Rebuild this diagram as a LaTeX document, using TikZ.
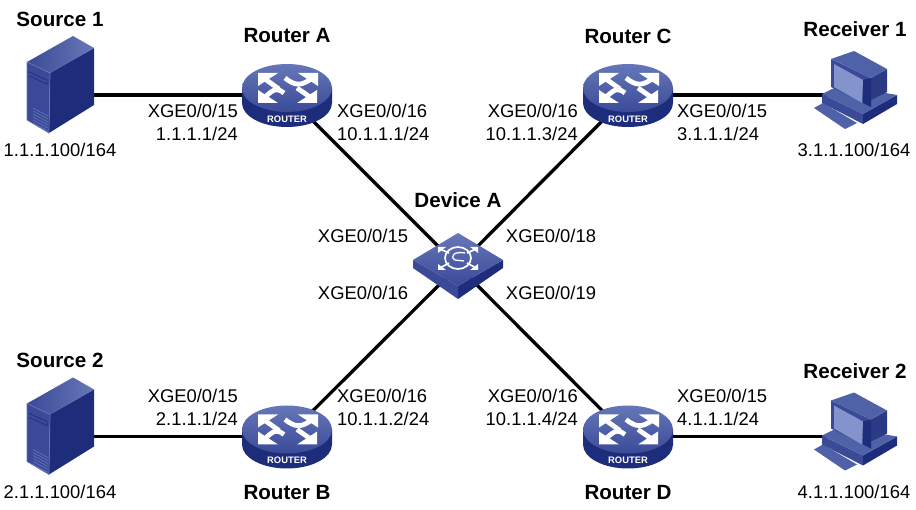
\documentclass[tikz,border=0pt]{standalone}
\usepackage{fontspec}
\setmainfont{Liberation Sans}
\definecolor{icontop}{HTML}{4F62A8}
\definecolor{iconlight}{HTML}{6677B8}
\definecolor{iconmid}{HTML}{3A4A98}
\definecolor{icondark}{HTML}{1E2C7C}
\definecolor{iconside}{HTML}{2A3A84}
\definecolor{iconscreen}{HTML}{8593CC}
\tikzset{
  site/.style={inner sep=0pt, minimum size=0pt},
  portlabel/.style={inner sep=0pt, font=\fontsize{18.4}{23}\selectfont},
  namelabel/.style={inner sep=0pt, font=\fontsize{20.6}{24}\selectfont\bfseries},
  link/.style={black, line width=3.3pt},
  shaft/.style={white, line width=4.8pt},
  smallarrow/.style={white, line width=1.7pt},
  router/.pic={
    \fill[icondark] (-45,-7) -- (-45,8) arc[start angle=180, end angle=0, x radius=45, y radius=24] -- (45,-7) -- cycle;
    \shade[top color=iconlight, bottom color=iconmid] (0,-7) ellipse[x radius=45, y radius=24];
    % arrows
    \fill[white] (-29,-22) -- (-9,-22) -- (-29,-9) -- cycle;
    \draw[shaft] (-22,-16) -- (-8,-6);
    \fill[white] (31,-22) -- (11,-22) -- (31,-9) -- cycle;
    \draw[shaft] (24,-16) .. controls (14,-9) and (8,-9) .. (-2,-17);
    \fill[white] (-29,8) -- (-9,8) -- (-29,-5) -- cycle;
    \draw[shaft] (-22,2) .. controls (-12,-7) and (-10,-7) .. (-3,-2);
    \fill[white] (30,8) -- (10,8) -- (30,-5) -- cycle;
    \draw[shaft] (23,2) -- (10,-7);
    \node[white, inner sep=0pt, font=\fontsize{9.4}{10}\selectfont\bfseries] at (0,24) {ROUTER};
  },
  switchbox/.pic={
    \fill[iconmid] (-45,-6) -- (0,20) -- (0,33) -- (-45,2) -- cycle;
    \fill[icondark] (45,-6) -- (0,20) -- (0,33) -- (45,2) -- cycle;
    \shade[top color=iconlight, bottom color=iconmid] (-45,-6) -- (0,-33) -- (45,-6) -- (0,20) -- cycle;
    \draw[white, line width=1.7pt] (0,-8) ellipse[x radius=13, y radius=11];
    \draw[white, line width=1.3pt] (7,-13) .. controls (-3,-15) and (-9,-10) .. (-3,-6) -- (6,-5);
    \fill[white] (-20,-19) -- (-12,-19) -- (-20,-13) -- cycle;
    \draw[smallarrow] (-18,-17) -- (-9,-13);
    \fill[white] (20,-19) -- (12,-19) -- (20,-13) -- cycle;
    \draw[smallarrow] (18,-17) -- (9,-13);
    \fill[white] (-20,4) -- (-12,4) -- (-20,-2) -- cycle;
    \draw[smallarrow] (-18,2) -- (-9,-3);
    \fill[white] (20,4) -- (12,4) -- (20,-2) -- cycle;
    \draw[smallarrow] (18,2) -- (9,-3);
  },
  server/.pic={
    \fill[iconmid] (-33,-33) -- (-10,-22) -- (-11,38) -- (-33,25) -- cycle;
    \fill[icondark] (-10,-22) -- (34,-47) -- (34,10) -- (-11,38) -- cycle;
    \shade[left color=iconmid, right color=iconlight] (-33,-33) -- (13,-59) -- (34,-47) -- (-10,-22) -- cycle;
    \draw[iconlight, line width=0.7pt] (-33,-33) -- (-33,25) -- (-11,38) -- (-10,-22) -- cycle;
    \draw[icondark, line width=0.7pt] (-31,-23) -- (-13,-15) -- (-13,-11) -- (-31,-19);
    \foreach \vent in {13,16,...,28}
      \draw[iconlight, line width=0.6pt] (-27,\vent) -- (-12,\vent+8);
  },
  terminal/.pic={
    % keyboard and base
    \fill[icontop] (-36,13) -- (-27,8) -- (7,28) -- (-5,34) -- cycle;
    \fill[iconmid] (-28,-1) -- (13,19) -- (13,29) -- (-28,8) -- cycle;
    \fill[icondark] (13,19) -- (47,0) -- (47,9) -- (13,29) -- cycle;
    \fill[icontop] (-28,-1) -- (-10,-10) -- (47,0) -- (13,19) -- cycle;
    % monitor
    \fill[iconside] (21,-17) -- (37,-26) -- (37,-3) -- (21,5) -- cycle;
    \fill[iconmid] (-19,-36) -- (21,-17) -- (21,12) -- (-19,-8) -- cycle;
    \fill[icondark] (13,-15) -- (21,-17) -- (21,12) -- (13,8) -- cycle;
    \fill[icontop] (-19,-36) -- (4,-44) -- (37,-26) -- (21,-17) -- cycle;
    \fill[iconscreen] (-16,-31) -- (13,-15) -- (12,8) -- (-16,-8) -- cycle;
  }
}
\begin{document}
\begin{tikzpicture}[x=1pt, y=-1pt]
    \useasboundingbox (0,0) rectangle (916,510);
    % Nodes
    \node[site] (src1) at (60,95) {};
    \node[site] (src2) at (60,436.5) {};
    \node[site] (ra) at (287,95) {};
    \node[site] (rb) at (287,436.5) {};
    \node[site] (rc) at (628,95) {};
    \node[site] (rd) at (628,436.5) {};
    \node[site] (da) at (458,266) {};
    \node[site] (rcv1) at (850,95) {};
    \node[site] (rcv2) at (850,436.5) {};

    % Edges
    \draw[link] (src1) -- (ra);
    \draw[link] (src2) -- (rb);
    \draw[link] (ra) -- (da);
    \draw[link] (rb) -- (da);
    \draw[link] (rc) -- (da);
    \draw[link] (rd) -- (da);
    \draw[link] (rc) -- (rcv1);
    \draw[link] (rd) -- (rcv2);

    % Icons
    \pic at (src1) {server};
    \pic at (src2) {server};
    \pic at (ra) {router};
    \pic at (rb) {router};
    \pic at (rc) {router};
    \pic at (rd) {router};
    \pic at (da) {switchbox};
    \pic at (rcv1) {terminal};
    \pic at (rcv2) {terminal};

    % Names
    \node[namelabel] (nsrc1) at (60,19) {Source 1};
    \node[namelabel] (nsrc2) at (60,360) {Source 2};
    \node[namelabel] (nra) at (287,36) {Router A};
    \node[namelabel] (nrb) at (287,493) {Router B};
    \node[namelabel] (nrc) at (628,36) {Router C};
    \node[namelabel] (nrd) at (628,493) {Router D};
    \node[namelabel] (nda) at (458,200) {Device A};
    \node[namelabel] (nrcv1) at (855,29) {Receiver 1};
    \node[namelabel] (nrcv2) at (855,371) {Receiver 2};

    % Addresses
    \node[portlabel] (asrc1) at (60,150) {1.1.1.100/164};
    \node[portlabel] (asrc2) at (60,492) {2.1.1.100/164};
    \node[portlabel] (arcv1) at (854,150) {3.1.1.100/164};
    \node[portlabel] (arcv2) at (854,492) {4.1.1.100/164};

    % Ports
    \node[portlabel, align=right, anchor=east] (pa1) at (238,122.5) {XGE0/0/15\\1.1.1.1/24};
    \node[portlabel, align=left, anchor=west] (pa2) at (337,122.5) {XGE0/0/16\\10.1.1.1/24};
    \node[portlabel, align=right, anchor=east] (pc1) at (578,122.5) {XGE0/0/16\\10.1.1.3/24};
    \node[portlabel, align=left, anchor=west] (pc2) at (677,122.5) {XGE0/0/15\\3.1.1.1/24};
    \node[portlabel, align=right, anchor=east] (pb1) at (238,407.5) {XGE0/0/15\\2.1.1.1/24};
    \node[portlabel, align=left, anchor=west] (pb2) at (337,407.5) {XGE0/0/16\\10.1.1.2/24};
    \node[portlabel, align=right, anchor=east] (pd1) at (578,407.5) {XGE0/0/16\\10.1.1.4/24};
    \node[portlabel, align=left, anchor=west] (pd2) at (677,407.5) {XGE0/0/15\\4.1.1.1/24};
    \node[portlabel] (pda1) at (363,236) {XGE0/0/15};
    \node[portlabel] (pda2) at (363,293) {XGE0/0/16};
    \node[portlabel] (pda3) at (551,236) {XGE0/0/18};
    \node[portlabel] (pda4) at (551,293) {XGE0/0/19};
\end{tikzpicture}
\end{document}
